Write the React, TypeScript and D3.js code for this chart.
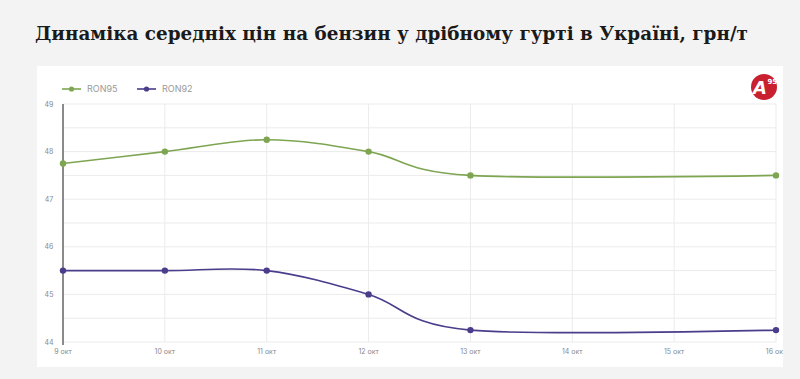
import React from "react";
import * as d3 from "d3";

const dates = ["9 окт", "10 окт", "11 окт", "12 окт", "13 окт", "14 окт", "15 окт", "16 окт"];
const ron95: (number | null)[] = [47.75, 48.0, 48.25, 48.0, 47.5, null, null, 47.5];
const ron92: (number | null)[] = [45.5, 45.5, 45.5, 45.0, 44.25, null, null, 44.25];
const yTicks = [44, 45, 46, 47, 48, 49];
const seriesNames = ["RON95", "RON92"];
const title = "Динаміка середніх цін на бензин у дрібному гурті в Україні, грн/т";

const W = 800, H = 379;
const colors = ["#7ea552", "#4b3c8c"];

export default function App() {
  const x = d3.scalePoint<string>().domain(dates).range([63, 776]);
  const y = d3.scaleLinear().domain([44, 49]).range([342, 104]);
  const grid = d3.range(44, 49.01, 0.5);
  const series = [ron95, ron92];
  const line = d3
    .line<[string, number]>()
    .x((d) => x(d[0])!)
    .y((d) => y(d[1]))
    .curve(d3.curveCardinal.tension(0));

  return (
    <svg width={W} height={H} style={{ position: "absolute", left: 0, top: 0, background: "#f3f3f3" }}>
      <defs>
        <clipPath id="panel">
          <rect x={37} y={66} width={746} height={301} />
        </clipPath>
      </defs>
      <text x={35} y={40} fontFamily="'DejaVu Serif', serif" fontWeight="bold" fontSize={19} fill="#1a1a1a" textLength={713} lengthAdjust="spacingAndGlyphs">
        {title}
      </text>
      <rect x={37} y={66} width={746} height={301} fill="#ffffff" />
      <g clipPath="url(#panel)">
        {grid.map((g) => (
          <line key={"h" + g} x1={63} x2={776} y1={y(g)} y2={y(g)} stroke="#ebebeb" strokeWidth={1} />
        ))}
        {dates.map((d) => (
          <line key={"v" + d} x1={x(d)} x2={x(d)} y1={104} y2={342} stroke="#ebebeb" strokeWidth={1} />
        ))}
        <line x1={63} x2={63} y1={104} y2={345} stroke="#666" strokeWidth={1.5} />
        {yTicks.map((t) => (
          <text key={"yt" + t} x={49} y={y(t) + 2.5} textAnchor="middle" fontFamily="Inter, sans-serif" fontSize={7} fill="#888">
            {t}
          </text>
        ))}
        {dates.map((d) => (
          <text key={"xt" + d} x={x(d)} y={354} textAnchor="middle" fontFamily="Inter, sans-serif" fontSize={7} fill="#888">
            {d}
          </text>
        ))}
        {series.map((s, i) => {
          const pts = dates
            .map((d, j) => [d, s[j]] as [string, number | null])
            .filter((p) => p[1] !== null) as [string, number][];
          return (
            <g key={"s" + i}>
              <path d={line(pts)!} fill="none" stroke={colors[i]} strokeWidth={1.6} />
              {pts.map((p) => (
                <circle key={p[0]} cx={x(p[0])} cy={y(p[1])} r={3.2} fill={colors[i]} />
              ))}
            </g>
          );
        })}
        {seriesNames.map((n, i) => (
          <g key={"lg" + n} transform={`translate(${62 + i * 75},89)`}>
            <line x1={0} x2={19} y1={0} y2={0} stroke={colors[i]} strokeWidth={1.6} />
            <circle cx={9.5} cy={0} r={2.6} fill={colors[i]} />
            <text x={25} y={3} fontFamily="Inter, sans-serif" fontSize={9} fill="#999">
              {n}
            </text>
          </g>
        ))}
        <g transform="translate(764,87)">
          <circle r={13} fill="#c8202f" />
          <text x={-4} y={7} textAnchor="middle" fontFamily="'DejaVu Sans', sans-serif" fontWeight="bold" fontStyle="italic" fontSize={18} fill="#ffffff">
            A
          </text>
          <text x={3.5} y={-3} textAnchor="start" fontFamily="'DejaVu Sans', sans-serif" fontWeight="bold" fontSize={7} fill="#ffffff">
            95
          </text>
        </g>
      </g>
    </svg>
  );
}
